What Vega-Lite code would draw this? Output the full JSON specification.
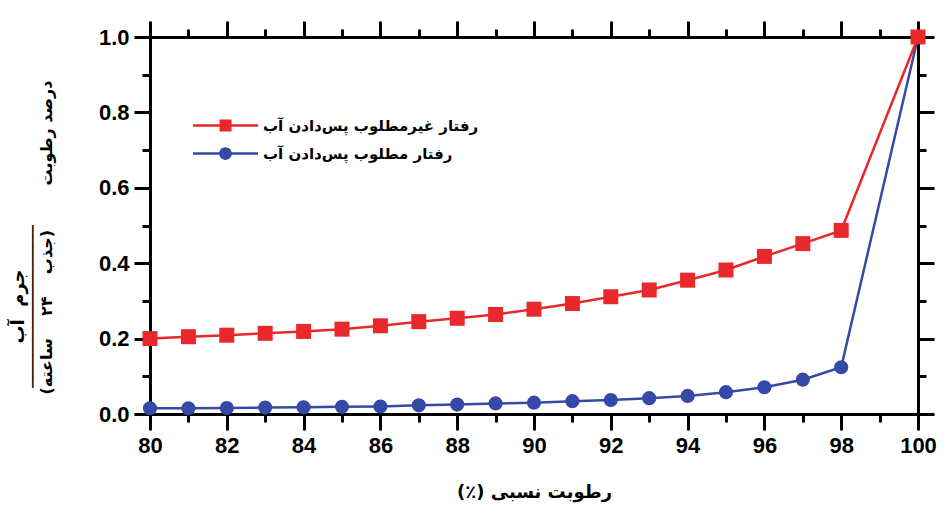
{
  "$schema": "https://vega.github.io/schema/vega-lite/v6.json",
  "width": 768,
  "height": 377,
  "autosize": {"type": "none"},
  "padding": {"left": 150, "top": 37, "right": 28, "bottom": 94},
  "background": "white",
  "config": {
    "view": {"stroke": null},
    "axis": {
      "grid": false,
      "domainColor": "black",
      "domainWidth": 3,
      "tickColor": "black",
      "tickWidth": 3,
      "labelFont": "Liberation Sans",
      "labelFontWeight": "bold",
      "labelFontSize": 22,
      "labelColor": "black",
      "labelFlush": false,
      "labelOverlap": false,
      "titleColor": "black",
      "titleFont": "DejaVu Sans",
      "titleFontWeight": "bold"
    }
  },
  "data": {
    "values": [
      {"rh": 80, "moisture": 0.015, "behavior": "رفتار مطلوب پس‌دادن آب"},
      {"rh": 81, "moisture": 0.015, "behavior": "رفتار مطلوب پس‌دادن آب"},
      {"rh": 82, "moisture": 0.016, "behavior": "رفتار مطلوب پس‌دادن آب"},
      {"rh": 83, "moisture": 0.017, "behavior": "رفتار مطلوب پس‌دادن آب"},
      {"rh": 84, "moisture": 0.018, "behavior": "رفتار مطلوب پس‌دادن آب"},
      {"rh": 85, "moisture": 0.019, "behavior": "رفتار مطلوب پس‌دادن آب"},
      {"rh": 86, "moisture": 0.020, "behavior": "رفتار مطلوب پس‌دادن آب"},
      {"rh": 87, "moisture": 0.023, "behavior": "رفتار مطلوب پس‌دادن آب"},
      {"rh": 88, "moisture": 0.025, "behavior": "رفتار مطلوب پس‌دادن آب"},
      {"rh": 89, "moisture": 0.028, "behavior": "رفتار مطلوب پس‌دادن آب"},
      {"rh": 90, "moisture": 0.030, "behavior": "رفتار مطلوب پس‌دادن آب"},
      {"rh": 91, "moisture": 0.034, "behavior": "رفتار مطلوب پس‌دادن آب"},
      {"rh": 92, "moisture": 0.037, "behavior": "رفتار مطلوب پس‌دادن آب"},
      {"rh": 93, "moisture": 0.042, "behavior": "رفتار مطلوب پس‌دادن آب"},
      {"rh": 94, "moisture": 0.048, "behavior": "رفتار مطلوب پس‌دادن آب"},
      {"rh": 95, "moisture": 0.058, "behavior": "رفتار مطلوب پس‌دادن آب"},
      {"rh": 96, "moisture": 0.071, "behavior": "رفتار مطلوب پس‌دادن آب"},
      {"rh": 97, "moisture": 0.091, "behavior": "رفتار مطلوب پس‌دادن آب"},
      {"rh": 98, "moisture": 0.124, "behavior": "رفتار مطلوب پس‌دادن آب"},
      {"rh": 100, "moisture": 1.0, "behavior": "رفتار مطلوب پس‌دادن آب"},
      {"rh": 80, "moisture": 0.200, "behavior": "رفتار غیرمطلوب پس‌دادن آب"},
      {"rh": 81, "moisture": 0.205, "behavior": "رفتار غیرمطلوب پس‌دادن آب"},
      {"rh": 82, "moisture": 0.209, "behavior": "رفتار غیرمطلوب پس‌دادن آب"},
      {"rh": 83, "moisture": 0.214, "behavior": "رفتار غیرمطلوب پس‌دادن آب"},
      {"rh": 84, "moisture": 0.219, "behavior": "رفتار غیرمطلوب پس‌دادن آب"},
      {"rh": 85, "moisture": 0.225, "behavior": "رفتار غیرمطلوب پس‌دادن آب"},
      {"rh": 86, "moisture": 0.234, "behavior": "رفتار غیرمطلوب پس‌دادن آب"},
      {"rh": 87, "moisture": 0.245, "behavior": "رفتار غیرمطلوب پس‌دادن آب"},
      {"rh": 88, "moisture": 0.254, "behavior": "رفتار غیرمطلوب پس‌دادن آب"},
      {"rh": 89, "moisture": 0.264, "behavior": "رفتار غیرمطلوب پس‌دادن آب"},
      {"rh": 90, "moisture": 0.278, "behavior": "رفتار غیرمطلوب پس‌دادن آب"},
      {"rh": 91, "moisture": 0.293, "behavior": "رفتار غیرمطلوب پس‌دادن آب"},
      {"rh": 92, "moisture": 0.311, "behavior": "رفتار غیرمطلوب پس‌دادن آب"},
      {"rh": 93, "moisture": 0.329, "behavior": "رفتار غیرمطلوب پس‌دادن آب"},
      {"rh": 94, "moisture": 0.355, "behavior": "رفتار غیرمطلوب پس‌دادن آب"},
      {"rh": 95, "moisture": 0.382, "behavior": "رفتار غیرمطلوب پس‌دادن آب"},
      {"rh": 96, "moisture": 0.418, "behavior": "رفتار غیرمطلوب پس‌دادن آب"},
      {"rh": 97, "moisture": 0.452, "behavior": "رفتار غیرمطلوب پس‌دادن آب"},
      {"rh": 98, "moisture": 0.487, "behavior": "رفتار غیرمطلوب پس‌دادن آب"},
      {"rh": 100, "moisture": 1.0, "behavior": "رفتار غیرمطلوب پس‌دادن آب"}
    ]
  },
  "resolve": {"axis": {"x": "independent", "y": "independent"}},
  "layer": [
    {
      "transform": [{"filter": "indexof(datum.behavior, 'غیر') < 0"}],
      "mark": {
        "type": "line",
        "strokeWidth": 2.5,
        "point": {"shape": "circle", "size": 200, "filled": true, "opacity": 1}
      },
      "encoding": {
        "x": {
          "field": "rh",
          "type": "quantitative",
          "scale": {"domain": [80, 100], "nice": false, "zero": false},
          "axis": {
            "orient": "bottom",
            "values": [80, 81, 82, 83, 84, 85, 86, 87, 88, 89, 90, 91, 92, 93, 94, 95, 96, 97, 98, 99, 100],
            "format": "d",
            "labelExpr": "datum.value % 2 === 0 ? datum.label : ''",
            "tickSize": {"condition": {"test": "datum.value % 2 === 0", "value": 16}, "value": 8},
            "labelPadding": 5,
            "title": "رطوبت نسبی (٪)\u200F",
            "titleFontSize": 18,
            "titleBaseline": "middle",
            "titleY": 78
          }
        },
        "y": {
          "field": "moisture",
          "type": "quantitative",
          "scale": {"domain": [0, 1], "nice": false},
          "axis": {
            "orient": "left",
            "values": [0, 0.1, 0.2, 0.3, 0.4, 0.5, 0.6, 0.7, 0.8, 0.9, 1],
            "format": ".1f",
            "labelExpr": "round(datum.value * 10) % 2 === 0 ? datum.label : ''",
            "tickSize": {"condition": {"test": "round(datum.value * 10) % 2 === 0", "value": 16}, "value": 8},
            "labelPadding": 5,
            "title": "\u200Fدرصد رطوبت\u00A0\u00A0\u00A0\u00A0\u00A0\u00A0\u00A0\u00A0(جذب\u00A0\u00A0\u00A0\u00A0۲۴\u00A0\u00A0\u00A0\u00A0ساعته)\u200F",
            "titleFontSize": 16,
            "titleBaseline": "middle",
            "titleAlign": "center",
            "titleX": -104,
            "titleY": 200
          }
        },
        "color": {
          "field": "behavior",
          "type": "nominal",
          "scale": {
            "domain": ["رفتار غیرمطلوب پس‌دادن آب", "رفتار مطلوب پس‌دادن آب"],
            "range": ["#e8282b", "#3549a6"]
          },
          "legend": {
            "orient": "none",
            "legendX": 93,
            "legendY": 81,
            "title": null,
            "padding": 0,
            "labelFont": "DejaVu Sans",
            "labelFontSize": 15,
            "labelFontWeight": "bold",
            "labelLimit": 0,
            "labelColor": "black",
            "labelOffset": 5,
            "symbolSize": 225,
            "rowPadding": 12,
            "encode": {
              "symbols": {
                "update": {
                  "shape": {"signal": "indexof(datum.value, 'غیر') >= 0 ? 'M-7.67,-0.17H1V0.17H-7.67Z M-4.13,-0.8H-2.53V0.8H-4.13Z' : 'M-7.67,-0.17H1V0.17H-7.67Z M-2.48,0A0.85,0.85 0 1,1 -4.18,0A0.85,0.85 0 1,1 -2.48,0Z'"},
                  "fill": {"scale": "color", "field": "value"},
                  "stroke": {"value": "transparent"},
                  "strokeWidth": {"value": 0},
                  "opacity": {"value": 1}
                }
              }
            }
          }
        }
      }
    },
    {
      "transform": [{"filter": "indexof(datum.behavior, 'غیر') >= 0"}],
      "mark": {
        "type": "line",
        "strokeWidth": 2.5,
        "point": {"shape": "square", "size": 225, "filled": true, "opacity": 1}
      },
      "encoding": {
        "x": {
          "field": "rh",
          "type": "quantitative",
          "axis": {
            "orient": "top",
            "values": [80, 81, 82, 83, 84, 85, 86, 87, 88, 89, 90, 91, 92, 93, 94, 95, 96, 97, 98, 99, 100],
            "labels": false,
            "tickSize": {"condition": {"test": "datum.value % 2 === 0", "value": 16}, "value": 8},
            "title": ["جرم\u00A0\u00A0آب", "───────────────"],
            "titleAngle": -90,
            "titleFontSize": 18,
            "titleFontWeight": "bold",
            "titleLineHeight": 15,
            "titleAlign": "center",
            "titleBaseline": "middle",
            "titleX": -132,
            "titleY": 269
          }
        },
        "y": {
          "field": "moisture",
          "type": "quantitative",
          "axis": {
            "orient": "right",
            "values": [0, 0.1, 0.2, 0.3, 0.4, 0.5, 0.6, 0.7, 0.8, 0.9, 1],
            "labels": false,
            "title": null,
            "tickSize": {"condition": {"test": "round(datum.value * 10) % 2 === 0", "value": 16}, "value": 8}
          }
        },
        "color": {"field": "behavior", "type": "nominal"}
      }
    }
  ]
}
